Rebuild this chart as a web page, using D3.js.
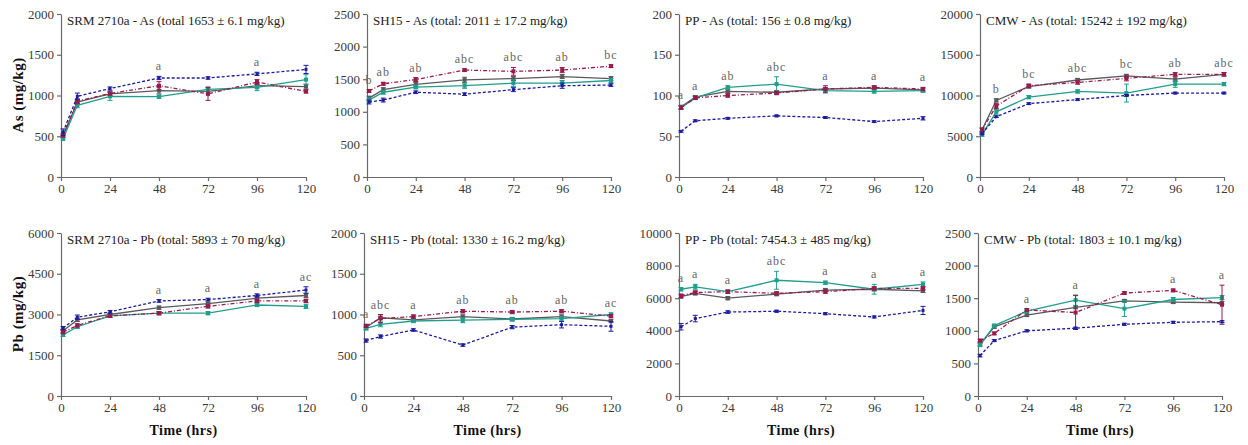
<!DOCTYPE html>
<html lang="en">
<head>
<meta charset="UTF-8">
<title>As and Pb release over time</title>
<style>
    body { margin: 0; background: #fff; }
    svg text { font-family: "Liberation Serif", "Times New Roman", serif; }
    .axis path, .axis line { stroke: #6a6a6a; stroke-width: 1.2; }
    .axis text { fill: #3a3a3a; font-size: 13px; }
</style>
</head>
<body>
<script src="https://cdn.jsdelivr.net/npm/d3@7/dist/d3.min.js"></script>
<script>
// sampling times (hrs) and x tick labels
var times = [1, 8, 24, 48, 72, 96, 120];
var xTicks = [0, 24, 48, 72, 96, 120];

// series order in every panel: grey solid, teal solid, maroon dash-dot, blue dashed
var seriesColors = ["#5a5a5a", "#1f9e8e", "#981b4e", "#1c1c9c"];
var seriesDash = [null, null, "4,2,1,2", "3,2"];

var titles = [
    "SRM 2710a - As (total 1653 \u00b1 6.1 mg/kg)",
    "SH15 - As (total: 2011 \u00b1 17.2 mg/kg)",
    "PP - As (total: 156 \u00b1 0.8 mg/kg)",
    "CMW - As (total: 15242 \u00b1 192 mg/kg)",
    "SRM 2710a - Pb (total: 5893 \u00b1 70 mg/kg)",
    "SH15 - Pb (total: 1330 \u00b1 16.2 mg/kg)",
    "PP - Pb (total: 7454.3 \u00b1 485 mg/kg)",
    "CMW - Pb (total: 1803 \u00b1 10.1 mg/kg)"
];
var yMax = [2000, 2500, 200, 20000, 6000, 2000, 10000, 2500];
var yStep = [500, 500, 50, 5000, 1500, 500, 2000, 500];

// values per panel: [grey, teal, maroon, blue]
var srmAs = [
    [500, 920, 1020, 1060, 1050, 1120, 1110],
    [470, 880, 990, 985, 1075, 1100, 1195],
    [510, 930, 1025, 1120, 1020, 1165, 1050],
    [550, 990, 1085, 1215, 1215, 1265, 1320]
];
var sh15As = [
    [1210, 1340, 1420, 1490, 1510, 1540, 1510],
    [1180, 1300, 1380, 1400, 1440, 1440, 1480],
    [1320, 1430, 1495, 1640, 1620, 1640, 1700],
    [1150, 1180, 1300, 1270, 1340, 1400, 1410]
];
var ppAs = [
    [86, 98, 105, 104, 108, 109, 107],
    [85, 97, 110, 114, 106, 105, 106],
    [85, 97, 100, 103, 108, 110, 108],
    [56, 69, 72, 75, 73, 68, 72]
];
var cmwAs = [
    [5800, 9400, 11100, 11900, 12400, 12000, 12600],
    [5200, 8000, 9800, 10500, 10300, 11400, 11400],
    [5800, 8700, 11200, 11600, 12100, 12600, 12600],
    [5300, 7400, 9000, 9500, 10000, 10300, 10300]
];
var srmPb = [
    [2400, 2800, 3000, 3250, 3400, 3600, 3700],
    [2250, 2550, 2950, 3050, 3050, 3350, 3300],
    [2350, 2600, 2950, 3050, 3300, 3500, 3500],
    [2500, 2900, 3100, 3500, 3550, 3700, 3900]
];
var sh15Pb = [
    [840, 960, 935, 975, 945, 975, 920],
    [830, 880, 920, 930, 940, 950, 1000],
    [860, 950, 975, 1040, 1030, 1040, 980],
    [680, 730, 810, 625, 845, 875, 855]
];
var ppPb = [
    [6100, 6300, 6000, 6250, 6500, 6550, 6450],
    [6550, 6700, 6400, 7100, 6950, 6550, 6850],
    [6150, 6350, 6400, 6300, 6400, 6600, 6600],
    [4250, 4750, 5150, 5200, 5050, 4850, 5250]
];
var cmwPb = [
    [790, 1060, 1240, 1360, 1460, 1440, 1430],
    [780, 1080, 1300, 1470, 1340, 1480, 1510],
    [850, 960, 1320, 1280, 1580, 1620, 1400],
    [620, 850, 1000, 1040, 1100, 1130, 1140]
];

// error bars (± values), same layout
var srmAsErr = [[20, 20, 20, 40, 30, 30, 30], [20, 30, 50, 20, 30, 40, 60], [20, 30, 20, 50, 80, 30, 20], [40, 40, 20, 20, 15, 20, 50]];
var sh15AsErr = [[30, 30, 30, 40, 30, 30, 30], [30, 30, 30, 40, 50, 40, 30], [20, 20, 30, 20, 60, 40, 20], [30, 30, 20, 20, 30, 40, 20]];
var ppAsErr = [[2, 2, 2, 2, 2, 2, 2], [2, 2, 2, 9, 3, 2, 2], [2, 2, 2, 2, 4, 2, 2], [1, 1, 1, 1, 1, 1, 2]];
var cmwAsErr = [[200, 200, 200, 200, 200, 300, 200], [200, 300, 200, 200, 1100, 400, 200], [200, 300, 200, 200, 300, 200, 200], [100, 100, 100, 100, 100, 100, 100]];
var srmPbErr = [[60, 60, 50, 60, 60, 60, 80], [60, 60, 60, 60, 60, 60, 80], [60, 60, 60, 60, 60, 60, 60], [60, 80, 50, 50, 50, 60, 120]];
var sh15PbErr = [[20, 20, 20, 20, 20, 20, 20], [20, 30, 20, 30, 20, 30, 20], [20, 50, 20, 20, 20, 20, 20], [20, 20, 15, 15, 20, 40, 60]];
var ppPbErr = [[100, 100, 100, 100, 100, 100, 100], [100, 150, 100, 550, 100, 300, 150], [100, 100, 100, 100, 100, 100, 100], [200, 200, 80, 60, 60, 60, 250]];
var cmwPbErr = [[20, 20, 20, 20, 20, 20, 20], [20, 20, 20, 80, 120, 30, 30], [20, 20, 20, 260, 20, 20, 300], [20, 15, 15, 15, 15, 15, 15]];

// significance letters
var srmAsTags = ["", "", "", "a", "", "a", ""];
var sh15AsTags = ["b", "ab", "ab", "abc", "abc", "ab", "bc"];
var ppAsTags = ["a", "a", "ab", "abc", "a", "a", "a"];
var cmwAsTags = ["", "b", "bc", "abc", "bc", "ab", "abc"];
var srmPbTags = ["", "", "", "a", "a", "a", "ac"];
var sh15PbTags = ["a", "abc", "a", "ab", "ab", "ab", "ac"];
var ppPbTags = ["a", "a", "a", "abc", "a", "a", "a"];
var cmwPbTags = ["", "", "a", "a", "", "a", "a"];

var panelData = [srmAs, sh15As, ppAs, cmwAs, srmPb, sh15Pb, ppPb, cmwPb];
var panelErr = [srmAsErr, sh15AsErr, ppAsErr, cmwAsErr, srmPbErr, sh15PbErr, ppPbErr, cmwPbErr];
var panelTags = [srmAsTags, sh15AsTags, ppAsTags, cmwAsTags, srmPbTags, sh15PbTags, ppPbTags, cmwPbTags];

// plot frames [left, right, top, bottom] in pixels
var frames = [
    [61, 306, 14, 177], [367, 611, 14, 177], [679, 923, 14, 177], [980, 1224, 14, 177],
    [61, 306, 233, 396], [364, 611, 233, 396], [679, 923, 233, 396], [978, 1222, 233, 396]
];

var width = 1248, height = 445;
var svg = d3.select("body").append("svg")
    .attr("width", width)
    .attr("height", height);

panelData.forEach(function(series, p) {
    var f = frames[p];
    var x = d3.scaleLinear().domain([0, 120]).range([f[0], f[1]]);
    var y = d3.scaleLinear().domain([0, yMax[p]]).range([f[3], f[2]]);
    var g = svg.append("g");

    g.append("g")
        .attr("class", "axis")
        .attr("transform", "translate(0," + f[3] + ")")
        .call(d3.axisBottom(x).tickValues(xTicks).tickSize(4).tickSizeOuter(0).tickPadding(3));

    g.append("g")
        .attr("class", "axis")
        .attr("transform", "translate(" + f[0] + ",0)")
        .call(d3.axisLeft(y)
            .tickValues(d3.range(0, yMax[p] + 1, yStep[p]))
            .tickFormat(d3.format("d"))
            .tickSize(4).tickSizeOuter(0).tickPadding(3));

    g.append("text")
        .attr("x", f[0] + 6)
        .attr("y", f[2] + 11)
        .attr("font-size", 13)
        .attr("fill", "#222")
        .text(titles[p]);

    var line = d3.line()
        .x(function(d, i) { return x(times[i]); })
        .y(function(d) { return y(d); });

    series.forEach(function(vals, s) {
        var col = seriesColors[s];
        var sg = g.append("g");
        sg.append("path")
            .datum(vals)
            .attr("fill", "none")
            .attr("stroke", col)
            .attr("stroke-width", 1.3)
            .attr("stroke-dasharray", seriesDash[s])
            .attr("d", line);

        var err = panelErr[p][s];
        sg.selectAll(".eb")
            .data(vals)
            .enter()
            .append("path")
            .attr("fill", "none")
            .attr("stroke", col)
            .attr("stroke-width", 1)
            .attr("d", function(d, i) {
                var cx = x(times[i]), y1 = y(d + err[i]), y2 = y(d - err[i]);
                return "M" + (cx - 2.5) + "," + y1 + "H" + (cx + 2.5) +
                    "M" + cx + "," + y1 + "V" + y2 +
                    "M" + (cx - 2.5) + "," + y2 + "H" + (cx + 2.5);
            });

        var ms = s === 3 ? 3 : 4;
        sg.selectAll("rect")
            .data(vals)
            .enter()
            .append("rect")
            .attr("x", function(d, i) { return x(times[i]) - ms / 2; })
            .attr("y", function(d) { return y(d) - ms / 2; })
            .attr("width", ms)
            .attr("height", ms)
            .attr("fill", col);
    });

    // letters above the highest point at each time
    g.selectAll(".tag")
        .data(panelTags[p])
        .enter()
        .append("text")
        .attr("text-anchor", "middle")
        .attr("font-size", 12)
        .attr("fill", "#666")
        .attr("letter-spacing", 1)
        .attr("x", function(d, i) { return x(times[i]); })
        .attr("y", function(d, i) {
            var top = d3.max(series, function(v, s) { return v[i] + panelErr[p][s][i]; });
            return y(top) - 6;
        })
        .text(function(d) { return d; });
});

// axis titles
var yTitles = [["As (mg/kg)", 95], ["Pb (mg/kg)", 314]];
yTitles.forEach(function(t) {
    svg.append("text")
        .attr("transform", "translate(23," + t[1] + ") rotate(-90)")
        .attr("text-anchor", "middle")
        .attr("font-size", 15)
        .attr("font-weight", "bold")
        .attr("letter-spacing", 0.5)
        .attr("fill", "#111")
        .text(t[0]);
});

frames.slice(4).forEach(function(f) {
    svg.append("text")
        .attr("x", (f[0] + f[1]) / 2)
        .attr("y", f[3] + 39)
        .attr("text-anchor", "middle")
        .attr("font-size", 14)
        .attr("font-weight", "bold")
        .attr("letter-spacing", 0.5)
        .attr("fill", "#111")
        .text("Time (hrs)");
});
</script>
</body>
</html>
